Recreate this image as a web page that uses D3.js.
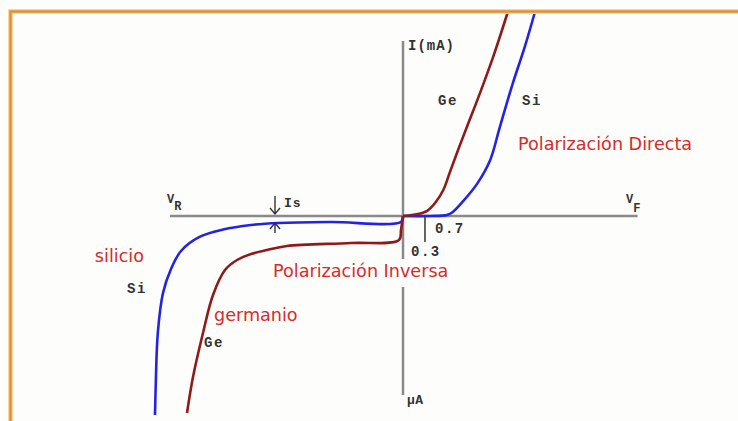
<!DOCTYPE html>
<html>
<head>
<meta charset="utf-8">
<script src="https://cdn.jsdelivr.net/npm/d3@7"></script>
<style>
  body { margin: 0; background: #fdfdfb; }
  svg { display: block; }
  .mono { font-family: "Liberation Mono", "DejaVu Sans Mono", monospace; font-weight: bold; fill: #333; }
  .red { font-family: "DejaVu Sans", sans-serif; fill: #d62b2b; }
</style>
</head>
<body>
<svg id="chart" width="738" height="421"></svg>
<script>
// forward bias: voltage (V) and current (mA)
const geFwdV = [0, 0.12, 0.26, 0.33, 0.44, 0.55, 0.64, 0.75, 0.87, 1.05, 1.23, 1.43];
const geFwdI = [0, 0.1, 0.3, 0.5, 1.3, 2.55, 4.3, 6.45, 8.7, 12.05, 15.6, 20];
const siFwdV = [0, 0.37, 0.6, 0.68, 0.82, 1.01, 1.19, 1.32, 1.5, 1.66, 1.8];
const siFwdI = [0, 0, 0.1, 0.4, 1.45, 3.15, 5.5, 8.7, 13.05, 16.55, 20];

// reverse bias: voltage (V) and current (uA)
const siRevV = [0, -0.5, -18, -31, -38, -45, -51, -55.5, -58, -60, -61.3, -61.8, -62];
const siRevI = [0, -1.5, -1.5, -1.75, -2.25, -3.4, -5.3, -8.75, -13.25, -19.25, -29.25, -41.75, -49.75];
const geRevV = [0, -0.5, -1, -13, -29, -34, -38, -41.5, -44.5, -47.5, -50, -52.5, -54];
const geRevI = [0, -3.5, -6, -6.75, -7.5, -8.5, -9.5, -11, -13.5, -19.75, -29.25, -40.25, -49.25];

const kneeTicks = [0.3];
const tickLabels = ["0.3", "0.7"];

const svg = d3.select("#chart");
const width = +svg.attr("width");
const height = +svg.attr("height");
const x0 = 403, y0 = 216;

const xF = d3.scaleLinear().domain([0, 1]).range([x0, x0 + 73.3]);
const yF = d3.scaleLinear().domain([0, 20]).range([y0, 12]);
const xR = d3.scaleLinear().domain([0, -60]).range([x0, x0 - 240]);
const yR = d3.scaleLinear().domain([0, -50]).range([y0, y0 + 200]);

svg.append("rect").attr("width", width).attr("height", height).attr("fill", "#fdfdfb");

const axisColor = "#8a8a8a";

// axes
svg.append("line")
  .attr("x1", xR(-58.25)).attr("x2", xF(3.2))
  .attr("y1", y0).attr("y2", y0)
  .attr("stroke", axisColor).attr("stroke-width", 2.5);
svg.append("line")
  .attr("x1", x0).attr("x2", x0)
  .attr("y1", yF(17.15)).attr("y2", yR(-44.75))
  .attr("stroke", axisColor).attr("stroke-width", 2.5);

// 0.3 tick
svg.selectAll(".knee")
  .data(kneeTicks)
  .join("line")
  .attr("x1", d => xF(d)).attr("x2", d => xF(d))
  .attr("y1", y0).attr("y2", y0 + 26)
  .attr("stroke", "#333").attr("stroke-width", 1.5);

const curve = d3.curveCatmullRom.alpha(0.5);
const lineF = d3.line().x(d => xF(d[0])).y(d => yF(d[1])).curve(curve);
const lineR = d3.line().x(d => xR(d[0])).y(d => yR(d[1])).curve(curve);

const series = [
  { v: siFwdV, i: siFwdI, line: lineF, color: "#2323e6" },
  { v: siRevV, i: siRevI, line: lineR, color: "#2323e6" },
  { v: geFwdV, i: geFwdI, line: lineF, color: "#8e1b1b" },
  { v: geRevV, i: geRevI, line: lineR, color: "#8e1b1b" }
];

svg.selectAll(".curve")
  .data(series)
  .join("path")
  .attr("class", "curve")
  .attr("d", s => s.line(d3.zip(s.v, s.i)))
  .attr("fill", "none")
  .attr("stroke", s => s.color)
  .attr("stroke-width", 2.6)
  .attr("stroke-linejoin", "round");

// Is arrows
const isX = xR(-32);
const arrow = (yStart, yEnd) => {
  const dir = yEnd > yStart ? -1 : 1;
  svg.append("path")
    .attr("d", `M${isX},${yStart}L${isX},${yEnd}M${isX - 5},${yEnd + dir * 6}L${isX},${yEnd}L${isX + 5},${yEnd + dir * 6}`)
    .attr("fill", "none").attr("stroke", "#333").attr("stroke-width", 1.4);
};
arrow(196, 214);
arrow(233, 223);

// monospace labels
const mono = (x, y, t, size) => svg.append("text").attr("class", "mono")
  .attr("x", x).attr("y", y).style("font-size", size + "px").text(t);

mono(408, 50, "I(mA)", 14).attr("letter-spacing", 1);
mono(438, 105, "Ge", 14).attr("letter-spacing", 1.5);
mono(522, 105, "Si", 14).attr("letter-spacing", 1.5);
mono(127, 293, "Si", 14).attr("letter-spacing", 1.5);
mono(204, 347, "Ge", 14).attr("letter-spacing", 1.5);
mono(284, 207, "Is", 13).attr("letter-spacing", 1);
mono(435, 233, tickLabels[1], 14).attr("letter-spacing", 1.5);
mono(411, 256, tickLabels[0], 14).attr("letter-spacing", 1.5);
mono(407, 404, "μA", 13).attr("letter-spacing", 0.5);

const vr = mono(167, 203, "V", 12);
vr.append("tspan").attr("dy", 7).style("font-size", "12px").text("R");
const vf = mono(626, 203, "V", 12);
vf.append("tspan").attr("dy", 9).style("font-size", "12px").text("F");

// red labels
const red = (x, y, t, anchor) => svg.append("text").attr("class", "red")
  .attr("x", x).attr("y", y).attr("text-anchor", anchor || "start")
  .style("font-size", "17.6px").text(t);

red(518, 150, "Polarización Directa");
red(144, 262, "silicio", "end");
red(214, 321, "germanio");
const inv = red(273, 277, "Polarización Inversa");
const bb = inv.node().getBBox();
svg.insert("rect", function () { return inv.node(); })
  .attr("x", bb.x - 2).attr("y", bb.y - 2)
  .attr("width", bb.width + 4).attr("height", bb.height + 8)
  .attr("fill", "#fdfdfb");

// orange frame
svg.append("path")
  .attr("d", `M${10.5},${height}L${10.5},${11.5}L${width},${11.5}`)
  .attr("fill", "none").attr("stroke", "#f6d9a0").attr("stroke-width", 5);
svg.append("path")
  .attr("d", `M${10.5},${height}L${10.5},${11.5}L${width},${11.5}`)
  .attr("fill", "none").attr("stroke", "#df9137").attr("stroke-width", 2.5);
</script>
</body>
</html>
